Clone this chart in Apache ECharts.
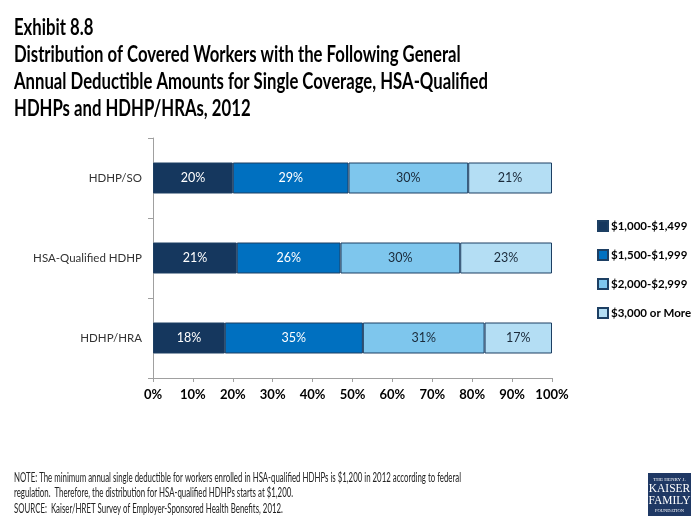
<!DOCTYPE html>
<html><head><meta charset="utf-8">
<script src="https://cdn.jsdelivr.net/npm/echarts@6/dist/echarts.min.js"></script>
<style>html,body{margin:0;padding:0;background:#fff}#c{width:697px;height:523px}</style>
</head><body><div id="c"></div>
<script>
const categories = ['HDHP/HRA', 'HSA-Qualified HDHP', 'HDHP/SO'];
const seriesNames = ['$1,000-$1,499', '$1,500-$1,999', '$2,000-$2,999', '$3,000 or More'];
const s1000 = [18, 21, 20];
const s1500 = [34.6, 26, 29];
const s2000 = [30.5, 30, 30];
const s3000 = [16.9, 23, 21];
const xTicks = [0, 10, 20, 30, 40, 50, 60, 70, 80, 90, 100];
const titleLines = ['Exhibit 8.8', 'Distribution of Covered Workers with the Following General', 'Annual Deductible Amounts for Single Coverage, HSA-Qualified', 'HDHPs and HDHP/HRAs, 2012'];
const noteLines = ['NOTE: The minimum annual single deductible for workers enrolled in HSA-qualified HDHPs is $1,200 in 2012 according to federal', 'regulation.  Therefore, the distribution for HSA-qualified HDHPs starts at $1,200.'];
const sourceLine = 'SOURCE:  Kaiser/HRET Survey of Employer-Sponsored Health Benefits, 2012.';

const colors = ['#15375e', '#0070c0', '#7ec6ed', '#b4def4'];
const labelColors = ['#ffffff', '#ffffff', '#1a2a3a', '#1a2a3a'];
const values = [s1000, s1500, s2000, s3000];
const F = "Lato, 'Open Sans', sans-serif";

const ctx = document.createElement('canvas').getContext('2d');
function widthOf(t, font) { ctx.font = font; return ctx.measureText(t).width; }
const titleScale = 474 / widthOf(titleLines[2], 'bold 22px Lato');
const noteScale = 447 / widthOf(noteLines[0], '12.5px Lato');

const graphics = [];
const titleBase = [39, 66, 93, 120];
titleLines.forEach((t, i) => graphics.push({
  type: 'text', x: 14, y: titleBase[i], scaleX: titleScale,
  style: { text: t, fontFamily: 'Lato', fontSize: 22, fontWeight: 'bold', fill: '#000', verticalAlign: 'bottom', textVerticalAlign: 'bottom' }
}));
const noteBase = [484, 499, 515];
noteLines.concat([sourceLine]).forEach((t, i) => graphics.push({
  type: 'text', x: 14, y: noteBase[i], scaleX: noteScale,
  style: { text: t, fontFamily: 'Lato', fontSize: 12.5, fill: '#222', verticalAlign: 'bottom', textVerticalAlign: 'bottom' }
}));
graphics.push(
  { type: 'rect', shape: { x: 648, y: 473, width: 43, height: 43 }, style: { fill: '#1f3864' } },
  { type: 'text', x: 669.5, y: 477, style: { text: 'THE HENRY J.', fontFamily: 'Liberation Serif', fontSize: 5, fill: '#fff', align: 'center' } },
  { type: 'text', x: 669.5, y: 483, scaleX: 0.88, style: { text: 'KAISER\nFAMILY', fontFamily: 'Liberation Serif', fontSize: 13, lineHeight: 12, fill: '#fff', align: 'center' } },
  { type: 'text', x: 669.5, y: 508, style: { text: 'FOUNDATION', fontFamily: 'Liberation Serif', fontSize: 4.5, fill: '#fff', align: 'center' } }
);

const chart = echarts.init(document.getElementById('c'));
chart.setOption({
  animation: false,
  legend: {
    orient: 'vertical', left: 592, top: 215, itemGap: 17,
    itemWidth: 10, itemHeight: 10, icon: 'rect',
    data: seriesNames,
    textStyle: { fontFamily: F, fontSize: 11.5, fontWeight: 'bold', color: '#000', padding: [0, 0, 0, -2] }
  },
  grid: { left: 153, right: 145, top: 138, bottom: 145 },
  xAxis: {
    type: 'value', min: 0, max: 100, interval: 10,
    axisLine: { show: true, lineStyle: { color: '#a0a0a0' } },
    axisTick: { show: true, length: 4, lineStyle: { color: '#a0a0a0' } },
    splitLine: { show: false },
    axisLabel: { formatter: v => xTicks.includes(v) ? v + '%' : '', fontFamily: F, fontSize: 13, fontWeight: 'bold', color: '#000', margin: 10 }
  },
  yAxis: {
    type: 'category', data: categories,
    axisLine: { show: true, lineStyle: { color: '#a0a0a0' } },
    axisTick: { show: true, length: 5, lineStyle: { color: '#a0a0a0' } },
    axisLabel: { fontFamily: F, fontSize: 11.5, color: '#333', margin: 11 }
  },
  series: values.map((v, i) => ({
    name: seriesNames[i], type: 'bar', stack: 'total', data: v, barWidth: 31,
    itemStyle: { color: colors[i], borderColor: '#1d3f63', borderWidth: 1 },
    label: { show: true, position: 'inside', formatter: p => Math.round(p.value) + '%', color: labelColors[i], fontFamily: F, fontSize: 12.5 }
  })),
  graphic: graphics
});
</script></body></html>
